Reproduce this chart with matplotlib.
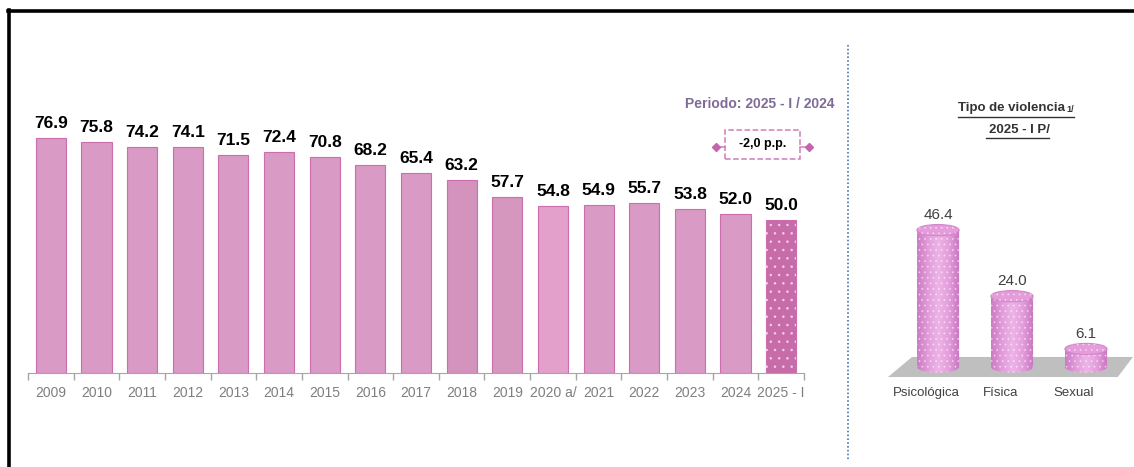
import numpy as np
import matplotlib
matplotlib.use('Agg')
import matplotlib.pyplot as plt
from matplotlib.patches import Polygon, Ellipse, Rectangle
from matplotlib.lines import Line2D
from matplotlib.colors import LinearSegmentedColormap

# ---- data ----
years = ['2009', '2010', '2011', '2012', '2013', '2014', '2015', '2016', '2017',
         '2018', '2019', '2020 a/', '2021', '2022', '2023', '2024', '2025 - I']
values = [76.9, 75.8, 74.2, 74.1, 71.5, 72.4, 70.8, 68.2, 65.4,
          63.2, 57.7, 54.8, 54.9, 55.7, 53.8, 52.0, 50.0]
bar_colors = ['#D99AC5'] * 9 + ['#D393BD', '#D597BD', '#E3A0CB'] + ['#D99AC5'] * 4 + ['#C76BA9']

tipos = ['Psicológica', 'Física', 'Sexual']
tipo_values = [46.4, 24.0, 6.1]

period_label = 'Periodo: 2025 - I / 2024'
change_label = '-2,0 p.p.'
title_1 = 'Tipo de violencia'
title_1_note = '1/'
title_2 = '2025 - I P/'

SANS = ['Liberation Sans', 'DejaVu Sans']
plt.rcParams['hatch.linewidth'] = 0.6

W, H = 1134, 467
fig = plt.figure(figsize=(W / 100, H / 100), dpi=100)


def px_box(x0, y0, x1, y1):
    # pixel box (top-left origin) -> figure fraction rect
    return [x0 / W, 1 - y1 / H, (x1 - x0) / W, (y1 - y0) / H]


def fx(px):
    return px / W


def fy(py):
    return 1 - py / H


# ---- left: yearly bars ----
ax = fig.add_axes(px_box(28, 80, 804, 373))
x = np.arange(len(years))
ax.bar(x, values, width=0.66, color=bar_colors, edgecolor='#CC6DAE', linewidth=0.8)
# white dot pattern on the last (preliminary) bar
ax.bar(x[-1:], values[-1:], width=0.66, color='none', edgecolor='#F4E0EE',
       linewidth=0, hatch='..', alpha=0.8)

for xi, v in zip(x, values):
    ax.annotate(f'{v:.1f}', (xi, v), xytext=(0, 5), textcoords='offset points',
                ha='center', va='bottom', fontsize=12.5, fontweight='bold',
                family=SANS, color='black')

ax.set_xlim(-0.5, len(years) - 0.5)
ax.set_ylim(0, 96)
for s in ['top', 'right', 'left']:
    ax.spines[s].set_visible(False)
ax.spines['bottom'].set_color('#A6A6A6')
ax.set_yticks([])
ax.set_xticks(np.arange(-0.5, len(years), 1))
ax.set_xticklabels([])
ax.set_xticks(x, minor=True)
ax.set_xticklabels(years, minor=True, family=SANS, fontsize=10, color='#7F7F7F')
ax.tick_params(axis='x', which='major', length=5, color='#A6A6A6', width=1)
ax.tick_params(axis='x', which='minor', length=0, pad=9.5)

# period annotation
ax.text(15.53, 88.3, period_label, ha='center', va='center', fontsize=10,
        fontweight='bold', family=SANS, color='#7E6B9A')
ax.add_patch(Rectangle((14.77, 70.0), 1.64, 9.5, fill=False, edgecolor='#D07DB9',
                       linestyle='--', linewidth=1.1, clip_on=False))
ax.text(15.59, 74.9, change_label, ha='center', va='center', fontsize=9,
        fontweight='bold', family=SANS, color='black')
ax.plot([14.57, 14.77], [74.0, 74.0], color='#D07DB9', lw=1.1, clip_on=False)
ax.plot([16.41, 16.61], [74.0, 74.0], color='#D07DB9', lw=1.1, clip_on=False)
ax.plot([14.57, 16.61], [74.0, 74.0], linestyle='none', marker='D', ms=4.5,
        color='#C464AC', clip_on=False)

# ---- right: cylinders ----
ax2 = fig.add_axes(px_box(880, 90, 1134, 420))
ax2.axis('off')

floor = Polygon([(-0.676, -3.4), (-0.351, 3.4), (2.635, 3.4), (2.43, -3.4)],
                closed=True, facecolor='#BFBFBF', edgecolor='none', zorder=1)
ax2.add_patch(floor)

cyl_cmap = LinearSegmentedColormap.from_list(
    'cyl', ['#CB7BC3', '#E29BDA', '#EDB4E7', '#E39DDB', '#C774BF'])
cw = 0.57
eh = 3.8
grad = np.linspace(0, 1, 200).reshape(1, -1)
for i, v in enumerate(tipo_values):
    left, right = i - cw / 2, i + cw / 2
    t = np.linspace(np.pi, 2 * np.pi, 40)
    arc = [(i + cw / 2 * np.cos(a), eh / 2 * np.sin(a)) for a in t]
    body = [(left, v)] + arc + [(right, v)]
    body_patch = Polygon(body, closed=True, facecolor='none', edgecolor='none', zorder=2)
    ax2.add_patch(body_patch)
    im = ax2.imshow(grad, extent=[left, right, -eh / 2, v], aspect='auto',
                    cmap=cyl_cmap, zorder=2)
    im.set_clip_path(body_patch)
    ax2.add_patch(Polygon(body, closed=True, facecolor='none', edgecolor='white',
                          linewidth=0, hatch='...', alpha=0.45, zorder=3))
    ax2.add_patch(Ellipse((i, v), cw, eh, facecolor='#E59CDA', edgecolor='#D286C9',
                          linewidth=0.8, zorder=4))
    ax2.add_patch(Ellipse((i, v), cw, eh, facecolor='none', edgecolor='white',
                          linewidth=0, hatch='...', alpha=0.45, zorder=5))
    ax2.annotate(f'{v:.1f}', (i, v), xytext=(0, 6), textcoords='offset points',
                 ha='center', va='bottom', fontsize=11, family=SANS, color='#404040')
    ax2.text(i - 0.16, -8.8, tipos[i], ha='center', va='center', fontsize=9.5,
             family=SANS, color='#404040')

ax2.set_xlim(-0.784, 2.649)
ax2.set_ylim(-17.97, 93.9)

# ---- titles on the right ----
t1 = fig.text(fx(1011), fy(108), title_1, ha='center', va='center', fontsize=9.5,
              fontweight='bold', family=SANS, color='#333333')
t2 = fig.text(fx(1019), fy(130), title_2, ha='center', va='center', fontsize=9.5,
              fontweight='bold', family=SANS, color='#333333')
fig.canvas.draw()
r = fig.canvas.get_renderer()
b1 = t1.get_window_extent(r)
t1n = fig.text(b1.x1 / W + 2 / W, fy(110), title_1_note, ha='left', va='center',
               fontsize=6.5, fontweight='bold', family=SANS, color='#333333')
fig.canvas.draw()
b1n = t1n.get_window_extent(r)
b2 = t2.get_window_extent(r)
fig.add_artist(Line2D([b1.x0 / W, b1n.x1 / W], [fy(117), fy(117)], color='#333333', lw=1))
fig.add_artist(Line2D([b2.x0 / W - 3 / W, b2.x1 / W], [fy(138), fy(138)], color='#333333', lw=1))

# ---- separators / frame ----
fig.add_artist(Line2D([fx(848), fx(848)], [fy(45), fy(460)], color='#2A5FA8',
                      lw=1.1, linestyle=(0, (1, 1.5))))
fig.add_artist(Line2D([fx(8), fx(1134)], [fy(11), fy(11)], color='black', lw=2.6))
fig.add_artist(Line2D([fx(9), fx(9)], [fy(10), fy(467)], color='black', lw=2.6))

fig.savefig('out.png', dpi=100)
